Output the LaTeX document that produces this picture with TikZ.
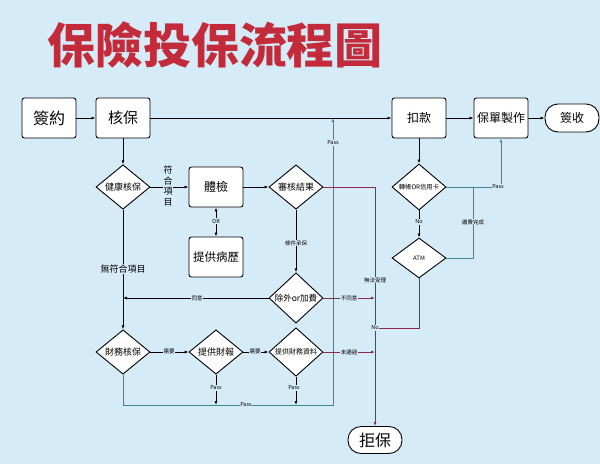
\documentclass[tikz,border=0pt]{standalone}
\usepackage{fontspec}
\setmainfont{Noto Sans CJK TC}
\usetikzlibrary{shapes.geometric,arrows.meta}
\definecolor{bgc}{HTML}{D6EBF8}
\definecolor{titlered}{HTML}{C42B3A}
\definecolor{tealc}{HTML}{3E8A8C}
\definecolor{maroonc}{HTML}{8E2A4A}
\tikzset{
  fs/.style={font=\fontsize{#1}{#1}\selectfont},
  boxnode/.style={draw=black, line width=0.9pt, rounded corners=2.5pt, fill=white,
    minimum width=54pt, minimum height=40pt, inner sep=0pt},
  pillnode/.style={draw=black, line width=0.9pt, rounded corners=13pt, fill=white,
    minimum width=54pt, minimum height=28pt, inner sep=0pt},
  dianode/.style={diamond, draw=black, line width=0.9pt, fill=white,
    minimum width=54pt, minimum height=40pt, inner sep=0pt},
  arr/.style={-{Latex[length=4pt,width=3pt]}},
  ln/.style={line width=0.8pt, black},
  tl/.style={line width=0.8pt, tealc},
  rl/.style={line width=0.8pt, maroonc},
  lbl/.style={fill=bgc, inner sep=0.6pt, fs=5.5, text=black},
  mlbl/.style={fill=bgc, inner sep=1pt, fs=9, text=black},
}
\begin{document}
\begin{tikzpicture}[x=1pt,y=-1pt]
\fill[bgc] (0,0) rectangle (600,464);
\useasboundingbox (0,0) rectangle (600,464);

\node[text=titlered, font={\fontsize{48}{48}\selectfont\bfseries}] (title) at (215,45) {保險投保流程圖};

% boxes
\node[boxnode, fs=16] (sign) at (49,118) {簽約};
\node[boxnode, fs=15] (uw) at (123,118) {核保};
\node[boxnode, fs=12] (pay) at (419,118) {扣款};
\node[boxnode, fs=12] (make) at (501,118) {保單製作};
\node[pillnode, fs=12] (recv) at (572,118) {簽收};
\node[boxnode, fs=12] (exam) at (216,187) {體檢};
\node[boxnode, fs=11.5] (hist) at (216,257) {提供病歷};
\node[pillnode, fs=16, minimum height=27pt] (reject) at (375,440) {拒保};

% diamonds
\node[dianode, fs=9] (health) at (123,187) {健康核保};
\node[dianode, fs=9] (result) at (296,187) {審核結果};
\node[dianode, fs=8.5] (excl) at (296,298) {除外or加費};
\node[dianode, fs=9] (fin) at (123,352) {財務核保};
\node[dianode, fs=9] (report) at (216,352) {提供財報};
\node[dianode, fs=7] (data) at (296,352) {提供財務資料};
\node[dianode, fs=6.3] (card) at (419,187) {轉帳OR信用卡};
\node[dianode, fs=6] (atm) at (419,258) {ATM};

% junction coordinates
\coordinate (rtop) at (375,187);
\coordinate (rexcl) at (375,298);
\coordinate (rdata) at (375,352);
\coordinate (rno) at (375,328);
\coordinate (agree) at (123,298);
\coordinate (atmdn) at (419,328);
\coordinate (finb) at (123,405);
\coordinate (passr) at (333,405);
\coordinate (passtop) at (333,118);
\coordinate (repb) at (216,405);
\coordinate (datab) at (296,405);
\coordinate (cardr) at (501,187);
\coordinate (atmr) at (473,258);
\coordinate (atmj) at (473,187);

% black connectors
\draw[ln,arr] (sign) -- (uw);
\draw[ln,arr] (uw) -- (pay);
\draw[ln,arr] (pay) -- (make);
\draw[ln,arr] (make) -- (recv);
\draw[ln,arr] (uw) -- (health);
\draw[ln,arr] (health) -- (exam);
\draw[ln,{Latex[length=4pt,width=3pt]}-{Latex[length=4pt,width=3pt]}] (exam) -- (hist);
\draw[ln,arr] (exam) -- (result);
\draw[ln,arr] (result) -- (excl);
\draw[ln,arr] (excl) -- (agree);
\draw[ln,arr] (health) -- (fin);
\draw[ln,arr] (fin) -- (report);
\draw[ln,arr] (report) -- (data);
\draw[ln,arr] (report) -- (repb);
\draw[ln,arr] (data) -- (datab);
\draw[ln,arr] (pay) -- (card);
\draw[ln,arr] (card) -- (atm);

% teal connectors
\draw[tl,arr] (fin) -- (finb) -- (passr) -- (passtop);
\draw[tl,arr] (card) -- (cardr) -- (make);
\draw[tl] (atm) -- (atmr) -- (atmj);

% maroon connectors
\draw[rl,arr] (result) -- (rtop) -- (reject);
\draw[rl,arr] (excl) -- (rexcl);
\draw[rl,arr] (data) -- (rdata);
\draw[rl] (atm) -- (atmdn) -- (rno);

% labels
\node[mlbl, align=center, inner sep=0.5pt, font=\fontsize{9}{10.5}\selectfont] at (168,186) {符\\合\\項\\目};
\node[lbl] at (216,221) {OR};
\node[lbl] at (296,243) {條件承保};
\node[lbl] at (375,280) {無法受理};
\node[lbl] at (197,298) {同意};
\node[lbl] at (349,298) {不同意};
\node[mlbl] at (123,269) {無符合項目};
\node[lbl] at (169,352) {需要};
\node[lbl] at (255,352) {需要};
\node[lbl] at (349,352) {未通過};
\node[lbl] at (216,388) {Pass};
\node[lbl] at (294,388) {Pass};
\node[lbl] at (246,405) {Pass};
\node[lbl] at (333,143) {Pass};
\node[lbl] at (498,187) {Pass};
\node[lbl] at (473,222) {繳費完成};
\node[lbl] at (419,222) {No};
\node[lbl] at (375,328) {No};
\end{tikzpicture}
\end{document}
